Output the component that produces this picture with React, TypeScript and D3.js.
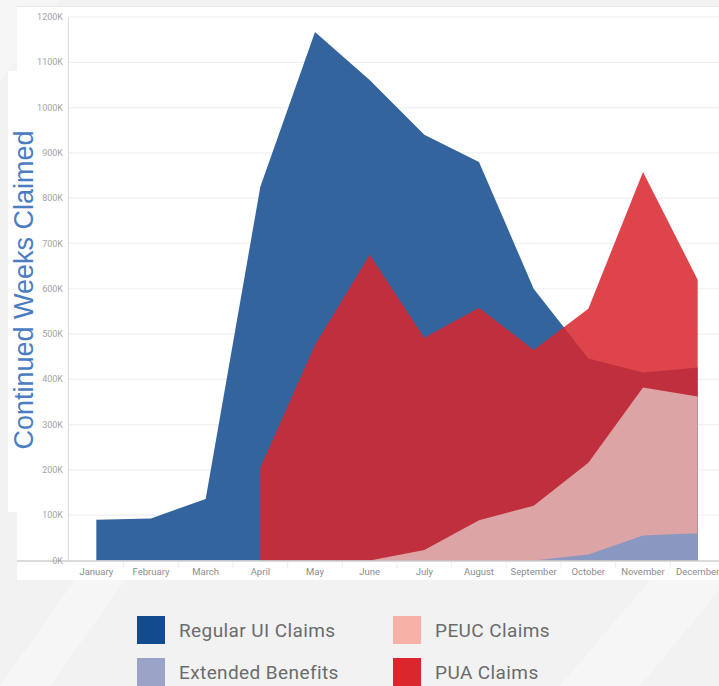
import React, { useEffect, useRef } from "react";
import * as d3 from "d3";

// values in thousands of weeks claimed
const months = ["January", "February", "March", "April", "May", "June", "July", "August", "September", "October", "November", "December"];
const regularUI = [90, 93, 136, 825, 1167, 1061, 940, 880, 600, 446, 415, 426];
const pua = [null, null, null, 205, 476, 675, 492, 558, 465, 556, 858, 620];
const peuc = [null, null, null, null, null, 0, 23, 89, 121, 216, 382, 362];
const extended = [null, null, null, null, null, null, null, null, 0, 13, 55, 60];
const yTicks = [0, 100, 200, 300, 400, 500, 600, 700, 800, 900, 1000, 1100, 1200];

const legendItems = [
  { name: "Regular UI Claims", color: "#134c8e" },
  { name: "PEUC Claims", color: "#f7b1a6" },
  { name: "Extended Benefits", color: "#9ba3c6" },
  { name: "PUA Claims", color: "#dc262d" },
];

export default function App() {
  const svgRef = useRef<SVGSVGElement>(null);

  useEffect(() => {
    const svg = d3.select(svgRef.current);
    svg.selectAll("*").remove();

    // page background
    svg.append("rect").attr("width", 719).attr("height", 686).attr("fill", "#f2f2f2");
    const stripes = [
      [[0, 686], [50, 686], [125, 580], [75, 580]],
      [[560, 686], [640, 686], [719, 590], [719, 580], [650, 580]],
      [[0, 0], [60, 0], [17, 60], [0, 80]],
    ];
    svg.selectAll(".stripe")
      .data(stripes)
      .join("polygon")
      .attr("points", (d) => d.map((p) => p.join(",")).join(" "))
      .attr("fill", "#ffffff")
      .attr("opacity", 0.35);

    // white panels
    svg.append("rect").attr("x", 17).attr("y", 6).attr("width", 702).attr("height", 574).attr("fill", "#fff");
    svg.append("rect").attr("x", 8).attr("y", 71).attr("width", 60).attr("height", 441).attr("fill", "#fff");
    svg.append("line").attr("x1", 17).attr("x2", 719).attr("y1", 6.5).attr("y2", 6.5).attr("stroke", "#e8e8e8");

    const x = d3.scaleBand().domain(months).range([69, 725]);
    const y = d3.scaleLinear().domain([0, 1200]).range([560.5, 17]);
    const cx = (m: string) => (x(m) as number) + x.bandwidth() / 2;

    // gridlines
    svg.selectAll(".grid")
      .data(yTicks.slice(1))
      .join("line")
      .attr("x1", 69)
      .attr("x2", 719)
      .attr("y1", (d) => y(d))
      .attr("y2", (d) => y(d))
      .attr("stroke", "#f0f0f0")
      .attr("stroke-width", 1.2);

    const area = d3
      .area<number | null>()
      .defined((d) => d != null)
      .x((d, i) => cx(months[i]))
      .y0(y(0))
      .y1((d) => y(d as number));

    const g = svg.append("g");
    g.append("path").attr("d", area(regularUI)).attr("fill", "#134b8d").attr("opacity", 0.857);
    g.append("path").attr("d", area(pua)).attr("fill", "#d7272d").attr("opacity", 0.857);
    g.append("path").attr("d", area(peuc)).attr("fill", "#dca4a4");
    g.append("path").attr("d", area(extended)).attr("fill", "#8a98c1");

    // axes lines
    svg.append("line").attr("x1", 68.5).attr("x2", 68.5).attr("y1", 17).attr("y2", 561).attr("stroke", "#dcdcdc");
    svg.append("line").attr("x1", 17).attr("x2", 719).attr("y1", 561).attr("y2", 561).attr("stroke", "#cfcfcf").attr("stroke-width", 1.5);

    // y tick labels
    svg.selectAll(".ytick")
      .data(yTicks)
      .join("text")
      .attr("x", 63)
      .attr("y", (d) => y(d))
      .attr("dy", "0.35em")
      .attr("text-anchor", "end")
      .attr("font-family", "Roboto, sans-serif")
      .attr("font-size", 9)
      .attr("fill", "#a3a3a3")
      .text((d) => d + "K");

    // x band separators and labels
    svg.selectAll(".xsep")
      .data(months.slice(1))
      .join("line")
      .attr("x1", (d) => x(d) as number)
      .attr("x2", (d) => x(d) as number)
      .attr("y1", 562)
      .attr("y2", 568)
      .attr("stroke", "#ececec");

    svg.selectAll(".xlab")
      .data(months)
      .join("text")
      .attr("x", (d) => cx(d))
      .attr("y", 574.5)
      .attr("text-anchor", "middle")
      .attr("font-family", "Roboto, sans-serif")
      .attr("font-size", 9.5)
      .attr("fill", "#8c8c8c")
      .text((d) => d);

    // y axis title
    svg.append("text")
      .attr("transform", "translate(33,290) rotate(-90)")
      .attr("text-anchor", "middle")
      .attr("font-family", "'Liberation Sans', Arial, sans-serif")
      .attr("font-size", 27)
      .attr("fill", "#4a7dc1")
      .text("Continued Weeks Claimed");

    // legend
    const lg = svg.selectAll(".leg")
      .data(legendItems)
      .join("g")
      .attr("transform", (d, i) => `translate(${i % 2 === 0 ? 137 : 393},${i < 2 ? 616 : 658})`);
    lg.append("rect").attr("width", 28).attr("height", 28).attr("fill", (d) => d.color);
    lg.append("text")
      .attr("x", 42)
      .attr("y", 21)
      .attr("font-family", "Roboto, sans-serif")
      .attr("font-size", 19)
      .attr("letter-spacing", 0.4)
      .attr("fill", "#6b6b6b")
      .text((d) => d.name);
  }, []);

  return (
    <div style={{ position: "absolute", left: 0, top: 0, width: 719, height: 686, overflow: "hidden" }}>
      <svg ref={svgRef} width={719} height={686} style={{ display: "block" }} />
    </div>
  );
}
